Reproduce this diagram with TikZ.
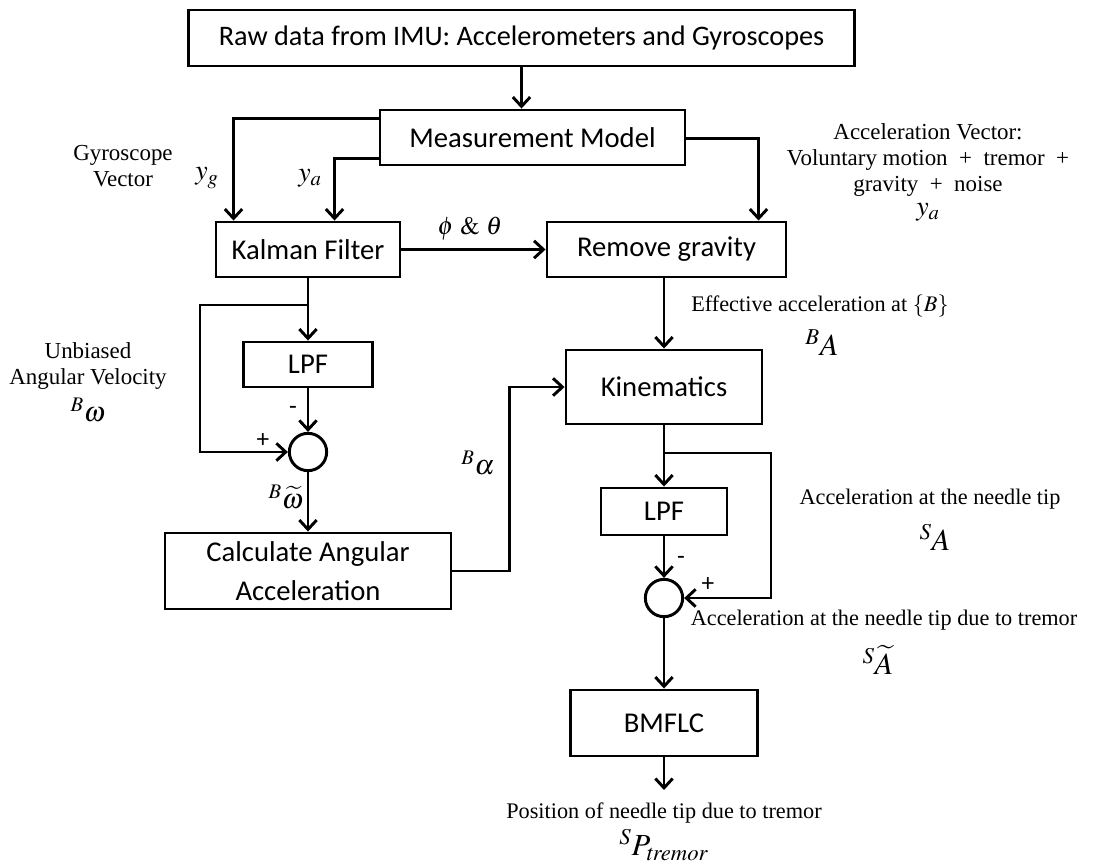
\documentclass[tikz,border=0pt]{standalone}
\usepackage{mathptmx}
\usepackage{fontspec}
\setmainfont{Liberation Serif}
\newfontfamily\boxfont{Carlito}
\usetikzlibrary{arrows.meta,calc}
\begin{document}
\begin{tikzpicture}[x=0.75pt,y=-0.75pt,
  blk/.style={draw,line width=2.2pt,font=\boxfont\fontsize{21.5}{26}\selectfont,align=center,inner sep=0pt},
  sumc/.style={draw,line width=2.2pt,circle,minimum size=28pt,inner sep=0pt},
  arr/.style={line width=2.2pt,-{Straight Barb[length=7pt,width=13pt,line width=2.2pt]}},
  lbl/.style={font=\fontsize{16.7}{19.5}\selectfont,align=center,inner sep=0pt},
  mth/.style={font=\fontsize{21}{24}\selectfont,inner sep=0pt},
  sgn/.style={font=\boxfont\fontsize{19}{20}\selectfont,inner sep=0pt}]
\useasboundingbox (0,0) rectangle (1096,865);
% boxes
\node[blk,font=\boxfont\fontsize{21.2}{24}\selectfont,minimum width=500pt,minimum height=42pt] (raw) at (521.5,38) {Raw data from IMU: Accelerometers and Gyroscopes};
\node[blk,minimum width=228.75pt,minimum height=41.25pt] (mm) at (532.5,137.5) {Measurement Model};
\node[blk,minimum width=138pt,minimum height=41.25pt] (kf) at (308,249.5) {Kalman Filter};
\node[blk,minimum width=179.25pt,minimum height=41.25pt] (rg) at (666.5,249.5) {Remove gravity};
\node[blk,minimum width=96.75pt,minimum height=33.75pt] (lpfa) at (308,364.5) {LPF};
\node[sumc] (suma) at (308,452) {};
\node[blk,minimum width=214.5pt,minimum height=57pt] (calc) at (308,571) {Calculate Angular\\[3pt]Acceleration};
\node[blk,minimum width=147pt,minimum height=55.5pt] (kin) at (664,387) {Kinematics};
\node[blk,minimum width=94.5pt,minimum height=35.25pt] (lpfb) at (664,511.5) {LPF};
\node[sumc] (sumb) at (664,598) {};
\node[blk,minimum width=140.25pt,minimum height=49.5pt] (bm) at (664,723) {BMFLC};
% connectors
\draw[arr] (raw.south) -- (mm.north -| raw.south);
\draw[arr] ($(mm.north west)+(0,10)$) -| ($(kf.north west)+(19,0)$);
\draw[arr] ($(mm.south west)+(0,-8)$) -| ($(kf.north west)+(120,0)$);
\draw[arr] ($(mm.north east)+(0,30)$) -| ($(rg.north west)+(213,0)$);
\draw[arr] (kf.east) -- (rg.west);
\draw[arr] (rg.south -| kin.north) -- (kin.north);
\draw[arr] (kf.south) -- (lpfa.north);
\coordinate (ba) at (308,305);
\draw[arr] (ba) -- ++(-108,0) |- (suma.west);
\draw[arr] (lpfa.south) -- (suma.north);
\draw[arr] (suma.south) -- (calc.north);
\draw[arr] (calc.east) -- ++(57,0) |- (kin.west);
\draw[arr] (kin.south) -- (lpfb.north);
\coordinate (bb) at (664,453);
\draw[arr] (bb) -- ++(107,0) |- (sumb.east);
\draw[arr] (lpfb.south) -- (sumb.north);
\draw[arr] (sumb.south) -- (bm.north);
\coordinate (out) at (664,790);
\draw[arr] (bm.south) -- (out);
% labels
\node[lbl,font=\fontsize{17.2}{19.5}\selectfont] (gyr) at (123,166) {Gyroscope\\Vector};
\node[mth] (yg) at (207,178) {$y_g$};
\node[mth] (ya) at (310,178) {$y_a$};
\node[lbl,font=\fontsize{19}{22}\selectfont] (pt) at (470,229) {$\phi\ \&\ \theta$};
\node[lbl,font=\fontsize{17.2}{19.5}\selectfont] (av) at (928,160) {Acceleration Vector:\\Voluntary motion\ \ +\ \ tremor\ \ +\\gravity\ \ +\ \ noise};
\node[mth] (ya2) at (928,212) {$y_a$};
\node[lbl,font=\fontsize{17.2}{19.5}\selectfont] (ub) at (88,366) {Unbiased\\Angular Velocity};
\node[mth] (bw) at (88,410) {$^{B}\omega$};
\node[sgn] (m1) at (293,410) {-};
\node[sgn] (p1) at (263,441) {+};
\node[mth] (bwt) at (286,497) {$^{B}\widetilde{\omega}$};
\node[mth] (ba2) at (478,463) {$^{B}\alpha$};
\node[lbl] (ea) at (820,306) {Effective acceleration at $\{B\}$};
\node[mth,font=\fontsize{23}{24}\selectfont] (bA) at (822,343) {$^{B}A$};
\node[lbl] (an) at (930,499) {Acceleration at the needle tip};
\node[mth,font=\fontsize{23}{24}\selectfont] (sA) at (935,537) {$^{S}A$};
\node[sgn] (m2) at (681,560) {-};
\node[sgn] (p2) at (708,585) {+};
\node[lbl] (at) at (884,620) {Acceleration at the needle tip due to tremor};
\node[mth,font=\fontsize{23}{24}\selectfont] (sAt) at (878,660) {$^{S}\widetilde{A}$};
\node[lbl] (pos) at (664,813) {Position of needle tip due to tremor};
\node[mth,font=\fontsize{23}{24}\selectfont] (sP) at (664,845) {$^{S}P_{\mathit{tremor}}$};
\end{tikzpicture}
\end{document}
